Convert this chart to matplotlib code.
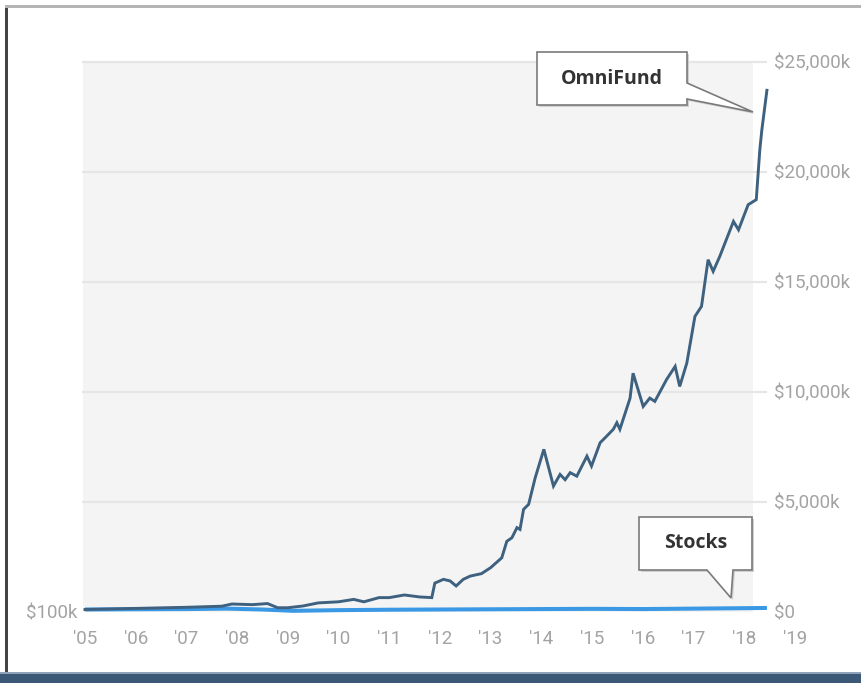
import matplotlib
matplotlib.use("Agg")
import matplotlib.pyplot as plt
from matplotlib.patches import Rectangle, Polygon

plt.rcParams['font.family'] = ['Roboto', 'DejaVu Sans']

# values in $k, time in decimal years
omni_t = [2005.0, 2006.0, 2007.0, 2007.7, 2007.9, 2008.3, 2008.6, 2008.8, 2009.0,
          2009.3, 2009.6, 2010.0, 2010.3, 2010.5, 2010.8, 2011.0, 2011.3, 2011.6,
          2011.84, 2011.9, 2012.07, 2012.2, 2012.32, 2012.46, 2012.6, 2012.82,
          2013.0, 2013.22, 2013.32, 2013.42, 2013.52, 2013.58, 2013.65, 2013.75,
          2013.88, 2014.05, 2014.24, 2014.37, 2014.47, 2014.57, 2014.7, 2014.9,
          2014.99, 2015.16, 2015.29, 2015.42, 2015.49, 2015.55, 2015.75, 2015.81,
          2016.01, 2016.14, 2016.24, 2016.47, 2016.64, 2016.73, 2016.87, 2017.03,
          2017.16, 2017.29, 2017.39, 2017.52, 2017.79, 2017.89, 2018.08, 2018.24,
          2018.31, 2018.35, 2018.45]
omni_v = [100, 150, 200, 250, 350, 320, 370, 180, 180,
          260, 400, 450, 560, 450, 640, 640, 760, 670,
          640, 1300, 1470, 1400, 1170, 1470, 1620, 1730,
          2000, 2450, 3200, 3360, 3820, 3740, 4650, 4880,
          6090, 7380, 5710, 6240, 6000, 6320, 6160, 7070,
          6620, 7680, 7980, 8290, 8590, 8290, 9700, 10840,
          9330, 9710, 9560, 10550, 11150, 10240, 11300, 13420,
          13880, 16000, 15470, 16150, 17740, 17360, 18500, 18730,
          21000, 21900, 23700]

stocks_t = [2005.0, 2006.0, 2007.0, 2007.8, 2008.5, 2009.1, 2010.0, 2011.0,
            2012.0, 2013.0, 2014.0, 2015.0, 2016.0, 2017.0, 2018.0, 2018.45]
stocks_v = [100, 110, 120, 140, 100, 40, 70, 90,
            100, 110, 120, 130, 120, 140, 160, 170]

year_ticks = list(range(2005, 2020))
year_labels = ["'%02d" % (y % 100) for y in year_ticks]
value_ticks = [0, 5000, 10000, 15000, 20000, 25000]
value_labels = ['$0', '$5,000k', '$10,000k', '$15,000k', '$20,000k', '$25,000k']

W, H = 862, 683
fig = plt.figure(figsize=(W / 100, H / 100), dpi=100)

# px mapping: x = 85 + (year-2005)*50.7 ; y(top-down) = 611.7 - v*0.022
left_px, right_px, top_px, bot_px = 82, 800, 40, 624
ax = fig.add_axes([left_px / W, (H - bot_px) / H, (right_px - left_px) / W, (bot_px - top_px) / H])
ax.set_xlim(2005 + (left_px - 85) / 50.7, 2005 + (right_px - 85) / 50.7)
ax.set_ylim((611.7 - bot_px) / 0.022, (611.7 - top_px) / 0.022)
for s in ax.spines.values():
    s.set_visible(False)

# gray plot background and grid
ax.add_patch(Rectangle((2004.96, 0), 2018.18 - 2004.96, 25000, facecolor='#f4f4f4',
                       edgecolor='none', zorder=0))
ax.hlines(value_ticks[1:], 2004.95, 2018.45, colors='#e6e6e6', lw=1.6, zorder=1)

ax.plot(stocks_t, stocks_v, color='#3a98e4', lw=2.9, zorder=3, solid_capstyle='butt')
ax.plot(omni_t, omni_v, color='#3e6180', lw=2.1, zorder=4, solid_joinstyle='miter')

ax.set_xticks(year_ticks, labels=year_labels)
ax.yaxis.tick_right()
ax.set_yticks(value_ticks, labels=value_labels)
ax.tick_params(axis='x', length=0, pad=4, labelsize=13.5, labelcolor='#a3a3a3')
ax.tick_params(axis='y', length=0, pad=-26 * 0.72, labelsize=13.5, labelcolor='#a3a3a3')
for lab in ax.get_yticklabels():
    lab.set_horizontalalignment('left')

left_ax = ax.secondary_yaxis('left')
left_ax.set_yticks([0], labels=['$100k'])
left_ax.tick_params(length=0, pad=3, labelsize=13.5, labelcolor='#a3a3a3')
left_ax.spines['left'].set_visible(False)


def callout(x0, y0, x1, y1, base, tip, text):
    # box corners and tail in pixels (top-down), converted to display coords
    pts = [(x0, y0), (x1, y0)]
    if base[0] == 'right':
        pts += [(x1, base[1]), tip, (x1, base[2]), (x1, y1), (x0, y1)]
    else:
        pts += [(x1, y1), (base[2], y1), tip, (base[1], y1), (x0, y1)]
    disp = [(px, H - py) for px, py in pts]
    fig.patches.append(Polygon([(px + 2, py - 2) for px, py in disp], closed=True, transform=None,
                               facecolor='#d0d0d0', edgecolor='none', zorder=5))
    fig.patches.append(Polygon(disp, closed=True, transform=None, facecolor='white',
                               edgecolor='#7a7a7a', lw=1.2, zorder=6))
    fig.text((x0 + x1) / 2 / W, 1 - ((y0 + y1) / 2) / H, text, ha='center', va='center',
             fontsize=14, fontweight='bold', color='#333333', family=['Open Sans', 'DejaVu Sans'],
             zorder=7)


callout(537, 52, 687, 105, ('right', 83, 99), (753, 112), 'OmniFund')
callout(639, 517, 752, 570, ('bottom', 707, 733), (731, 598), 'Stocks')

# screenshot frame
fig.patches.append(Rectangle((0, 0), W, 11, transform=None, facecolor='#3b5876', edgecolor='none'))
fig.patches.append(Rectangle((0, 9), W, 2, transform=None, facecolor='#8ea3b8', edgecolor='none'))
fig.patches.append(Rectangle((5, 11), 2.5, H - 16, transform=None, facecolor='#444444', edgecolor='none'))
fig.patches.append(Rectangle((5, H - 8), W - 5, 3, transform=None, facecolor='#b5b5b5', edgecolor='none'))

fig.savefig('out.png', dpi=100)
